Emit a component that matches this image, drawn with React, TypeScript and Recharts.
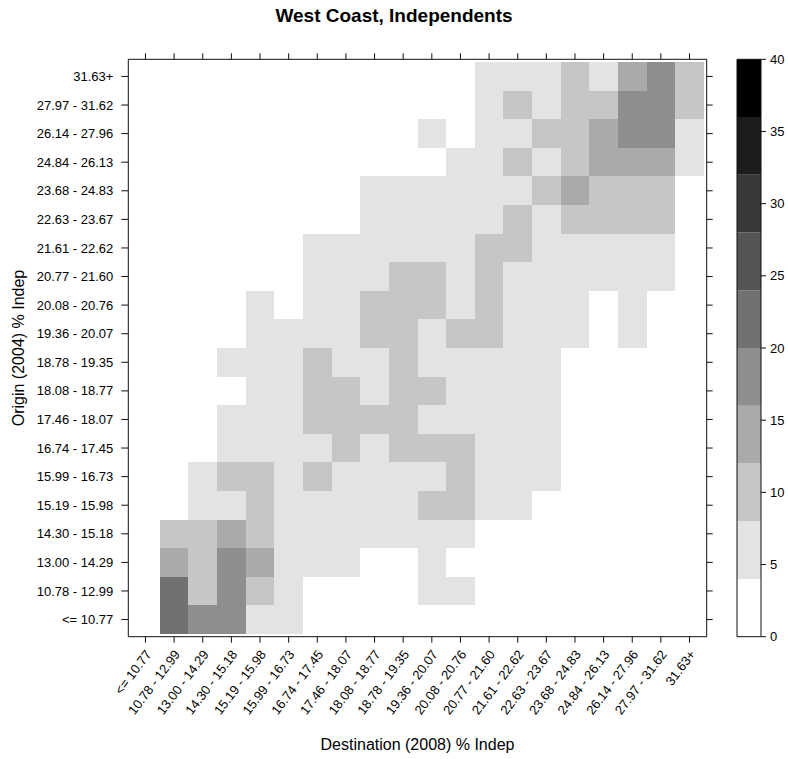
import React from 'react';
import { ScatterChart, Scatter, XAxis, YAxis, BarChart, Bar } from 'recharts';

// ---- data ----
const destinationBins = [
  '<= 10.77', '10.78 - 12.99', '13.00 - 14.29', '14.30 - 15.18', '15.19 - 15.98',
  '15.99 - 16.73', '16.74 - 17.45', '17.46 - 18.07', '18.08 - 18.77', '18.78 - 19.35',
  '19.36 - 20.07', '20.08 - 20.76', '20.77 - 21.60', '21.61 - 22.62', '22.63 - 23.67',
  '23.68 - 24.83', '24.84 - 26.13', '26.14 - 27.96', '27.97 - 31.62', '31.63+',
];
const originBins = [
  '<= 10.77', '10.78 - 12.99', '13.00 - 14.29', '14.30 - 15.18', '15.19 - 15.98',
  '15.99 - 16.73', '16.74 - 17.45', '17.46 - 18.07', '18.08 - 18.77', '18.78 - 19.35',
  '19.36 - 20.07', '20.08 - 20.76', '20.77 - 21.60', '21.61 - 22.62', '22.63 - 23.67',
  '23.68 - 24.83', '24.84 - 26.13', '26.14 - 27.96', '27.97 - 31.62', '31.63+',
];
// shares[origin][destination], origin 0 = '<= 10.77' (bottom row)
const shares: number[][] = [
  [0, 22.4, 18.9, 17.6, 6.3, 4.7, 1.2, 0.5, 0, 0, 0, 0, 0, 0, 0, 0, 0, 0, 0, 0],
  [0.4, 21.3, 10.1, 17.2, 9.4, 5.1, 2.6, 1.8, 1.1, 2.2, 4.8, 4.3, 0.9, 0.3, 0, 0, 0, 0, 0, 0],
  [0.2, 13.6, 11.2, 18.4, 12.7, 6.8, 5.2, 4.4, 2.9, 3.1, 4.6, 1.4, 0.8, 0.5, 0, 0, 0, 0, 0, 0],
  [0.6, 9.3, 10.8, 14.1, 11.5, 7.2, 6.1, 5.5, 4.9, 5.8, 4.2, 4.6, 2.3, 1.7, 0.9, 0.4, 0, 0, 0, 0],
  [0, 2.8, 5.6, 7.4, 10.6, 6.9, 7.7, 5.3, 6.2, 7.1, 8.8, 9.1, 4.5, 4.1, 2.7, 1.3, 0.6, 0, 0, 0],
  [0, 1.5, 4.4, 9.8, 8.6, 7.5, 8.2, 6.6, 5.9, 7.3, 6.4, 9.5, 5.2, 4.8, 4.1, 3.2, 1.9, 0.7, 0, 0],
  [0, 0.8, 3.4, 5.7, 6.2, 7.8, 6.5, 9.7, 7.4, 8.9, 10.4, 9.2, 6.7, 5.4, 4.3, 2.5, 1.6, 0.9, 0, 0],
  [0, 0.3, 2.1, 4.9, 6.8, 7.6, 10.2, 11.3, 9.6, 10.7, 7.5, 6.3, 5.8, 5.1, 4.4, 3.3, 1.8, 0.6, 0.2, 0],
  [0, 0, 1.2, 3.5, 5.3, 6.4, 8.7, 9.9, 7.9, 11.4, 8.3, 6.9, 6.2, 5.5, 4.7, 3.6, 2.4, 1.1, 0.5, 0],
  [0, 0, 0.9, 4.3, 5.9, 7.1, 9.0, 7.7, 7.2, 10.5, 7.9, 6.8, 6.0, 5.6, 4.9, 3.8, 2.9, 1.7, 0.8, 0.3],
  [0, 0, 0.4, 2.7, 4.6, 5.4, 6.6, 7.3, 9.2, 10.9, 7.6, 9.4, 8.6, 6.4, 5.7, 5.0, 3.7, 4.2, 2.1, 0.6],
  [0, 0, 0, 1.9, 4.5, 3.6, 6.1, 7.0, 10.3, 11.1, 9.7, 7.4, 9.3, 6.7, 6.0, 5.3, 3.4, 4.4, 2.8, 1.2],
  [0, 0, 0, 0.8, 2.3, 3.1, 4.8, 6.2, 7.6, 9.5, 10.8, 7.2, 10.1, 7.1, 6.3, 5.8, 5.2, 4.6, 4.3, 2.4],
  [0, 0, 0, 0.5, 1.4, 2.6, 4.3, 5.1, 6.5, 7.4, 7.8, 7.1, 9.6, 10.6, 7.5, 6.6, 5.9, 5.4, 4.8, 3.1],
  [0, 0, 0, 0, 0.7, 1.6, 2.9, 3.5, 4.7, 5.6, 6.4, 6.9, 7.5, 10.8, 7.3, 9.2, 10.4, 11.2, 9.8, 3.6],
  [0, 0, 0, 0, 0.3, 0.9, 1.8, 2.7, 4.4, 5.2, 5.7, 6.3, 7.1, 7.7, 10.9, 13.4, 11.6, 10.7, 9.4, 3.8],
  [0, 0, 0, 0, 0, 0.4, 0.8, 1.5, 2.3, 3.2, 3.7, 4.9, 6.1, 9.3, 7.6, 11.5, 14.2, 15.3, 13.1, 6.4],
  [0, 0, 0, 0, 0, 0, 0.5, 0.9, 1.6, 2.8, 4.5, 3.5, 5.7, 7.3, 10.2, 11.8, 15.1, 18.3, 17.4, 5.9],
  [0, 0, 0, 0, 0, 0, 0, 0.4, 0.7, 1.3, 2.2, 3.3, 5.6, 9.1, 7.8, 10.5, 11.7, 19.2, 18.6, 10.3],
  [0, 0, 0, 0, 0, 0, 0, 0, 0.3, 0.6, 1.1, 2.5, 4.8, 5.5, 6.2, 8.4, 6.9, 15.6, 19.7, 11.8],
];
const colorBreaks = [0, 4, 8, 12, 16, 20, 24, 28, 32, 36, 40];
const grayLevels = [
  '#ffffff', '#e3e3e3', '#c6c6c6', '#aaaaaa', '#8e8e8e',
  '#717171', '#555555', '#393939', '#1c1c1c', '#000000',
];
const keyTicks = [0, 5, 10, 15, 20, 25, 30, 35, 40];

// ---- layout ----
const FONT = '"Liberation Sans", Arial, Helvetica, sans-serif';
const AX = '#111';
const W = 788;
const H = 759;
const PLOT = { left: 128.3, right: 706.7, top: 59.3, bottom: 636.7 };
const DOMAIN: [number, number] = [0.4, 20.6];
const YAXIS_W = 128;
const XAXIS_H = 122;
const CELL_W = (PLOT.right - PLOT.left) / (DOMAIN[1] - DOMAIN[0]);
const CELL_H = (PLOT.bottom - PLOT.top) / (DOMAIN[1] - DOMAIN[0]);

const cells = shares.flatMap((row, oi) =>
  row.map((v, di) => ({ x: di + 1, y: oi + 1, value: v }))
);
const positions = destinationBins.map((_, i) => i + 1);

function fillFor(v: number): string {
  for (let k = 0; k < grayLevels.length; k++) {
    if (v < colorBreaks[k + 1]) return grayLevels[k];
  }
  return grayLevels[grayLevels.length - 1];
}

const CellShape = (props: any) => {
  const { cx, cy, payload } = props;
  return (
    <rect
      x={cx - CELL_W / 2}
      y={cy - CELL_H / 2}
      width={CELL_W}
      height={CELL_H}
      fill={fillFor(payload.value)}
      shapeRendering="crispEdges"
    />
  );
};

const Blank = () => <g />;

const XTick = (props: any) => {
  const { x, y, payload } = props;
  const ax = x + 3;
  const ay = y + 7;
  return (
    <text
      x={ax}
      y={ay}
      transform={`rotate(-53 ${ax} ${ay})`}
      textAnchor="end"
      dominantBaseline="central"
      fontSize={13}
      fontFamily={FONT}
      fill="#000"
    >
      {destinationBins[Number(payload.value) - 1]}
    </text>
  );
};

const keyRow = [
  grayLevels.reduce(
    (acc: any, _c, k) => {
      acc['b' + k] = colorBreaks[k + 1] - colorBreaks[k];
      return acc;
    },
    { name: 'key' }
  ),
];

const KEY_LEFT = 737;
const KEY_RIGHT = 761;
const KEY_BOX_X = 700;
const KEY_W = 88;

export default function App() {
  return (
    <div style={{ position: 'absolute', left: 0, top: 0, width: W, height: H, background: '#fff' }}>
      <div style={{ position: 'absolute', left: 0, top: 0 }}>
        <ScatterChart
          width={W}
          height={H}
          margin={{
            top: PLOT.top - 1,
            right: W - PLOT.right - 1,
            bottom: H - PLOT.bottom - XAXIS_H,
            left: PLOT.left - YAXIS_W,
          }}
        >
          <XAxis
            xAxisId="b"
            type="number"
            dataKey="x"
            domain={DOMAIN}
            ticks={positions}
            interval={0}
            allowDataOverflow
            height={XAXIS_H}
            tickSize={6}
            tick={<XTick />}
            axisLine={{ stroke: AX }}
            tickLine={{ stroke: AX }}
          />
          <XAxis
            xAxisId="t"
            orientation="top"
            type="number"
            dataKey="x"
            domain={DOMAIN}
            ticks={positions}
            interval={0}
            allowDataOverflow
            height={1}
            tickSize={6}
            tick={Blank}
            axisLine={{ stroke: AX }}
            tickLine={{ stroke: AX }}
          />
          <YAxis
            yAxisId="l"
            type="number"
            dataKey="y"
            domain={DOMAIN}
            ticks={positions}
            interval={0}
            allowDataOverflow
            width={YAXIS_W}
            tickSize={7}
            tickMargin={8}
            tickFormatter={(v: number) => originBins[v - 1]}
            tick={{ fontSize: 13, fill: '#000', fontFamily: FONT }}
            axisLine={{ stroke: AX }}
            tickLine={{ stroke: AX }}
          />
          <YAxis
            yAxisId="r"
            orientation="right"
            type="number"
            dataKey="y"
            domain={DOMAIN}
            ticks={positions}
            interval={0}
            allowDataOverflow
            width={1}
            tickSize={6}
            tick={Blank}
            axisLine={{ stroke: AX }}
            tickLine={{ stroke: AX }}
          />
          <Scatter
            data={cells}
            xAxisId="b"
            yAxisId="l"
            shape={CellShape}
            isAnimationActive={false}
          />
        </ScatterChart>
      </div>

      <div style={{ position: 'absolute', left: KEY_BOX_X, top: 0 }}>
        <BarChart
          width={KEY_W}
          height={H}
          data={keyRow}
          barCategoryGap={0}
          margin={{
            top: PLOT.top - 1,
            right: 0,
            bottom: H - PLOT.bottom - 1,
            left: KEY_LEFT - KEY_BOX_X - 1,
          }}
        >
          <XAxis xAxisId="kb" dataKey="name" height={1} tick={Blank} tickLine={false} axisLine={{ stroke: AX }} />
          <XAxis xAxisId="kt" orientation="top" dataKey="name" height={1} tick={Blank} tickLine={false} axisLine={{ stroke: AX }} />
          <YAxis yAxisId="kl" type="number" domain={[0, 40]} width={1} tick={Blank} tickLine={false} axisLine={{ stroke: AX }} />
          <YAxis
            yAxisId="kr"
            orientation="right"
            type="number"
            domain={[0, 40]}
            ticks={keyTicks}
            interval={0}
            width={KEY_W - (KEY_RIGHT - KEY_BOX_X)}
            tickSize={5}
            tickMargin={4}
            tick={{ fontSize: 13, fill: '#000', fontFamily: FONT }}
            axisLine={{ stroke: AX }}
            tickLine={{ stroke: AX }}
          />
          {grayLevels.map((c, k) => (
            <Bar
              key={k}
              dataKey={'b' + k}
              stackId="key"
              xAxisId="kb"
              yAxisId="kr"
              fill={c}
              isAnimationActive={false}
            />
          ))}
        </BarChart>
      </div>

      <svg
        width={W}
        height={H}
        style={{ position: 'absolute', left: 0, top: 0, pointerEvents: 'none' }}
      >
        <text x={394} y={22} textAnchor="middle" fontSize={19} fontWeight="bold" fontFamily={FONT} fill="#000">
          West Coast, Independents
        </text>
        <text x={(PLOT.left + PLOT.right) / 2} y={750} textAnchor="middle" fontSize={16} fontFamily={FONT} fill="#000">
          Destination (2008) % Indep
        </text>
        <text
          x={23.5}
          y={(PLOT.top + PLOT.bottom) / 2}
          transform={`rotate(-90 23.5 ${(PLOT.top + PLOT.bottom) / 2})`}
          textAnchor="middle"
          fontSize={16}
          fontFamily={FONT}
          fill="#000"
        >
          Origin (2004) % Indep
        </text>
      </svg>
    </div>
  );
}
